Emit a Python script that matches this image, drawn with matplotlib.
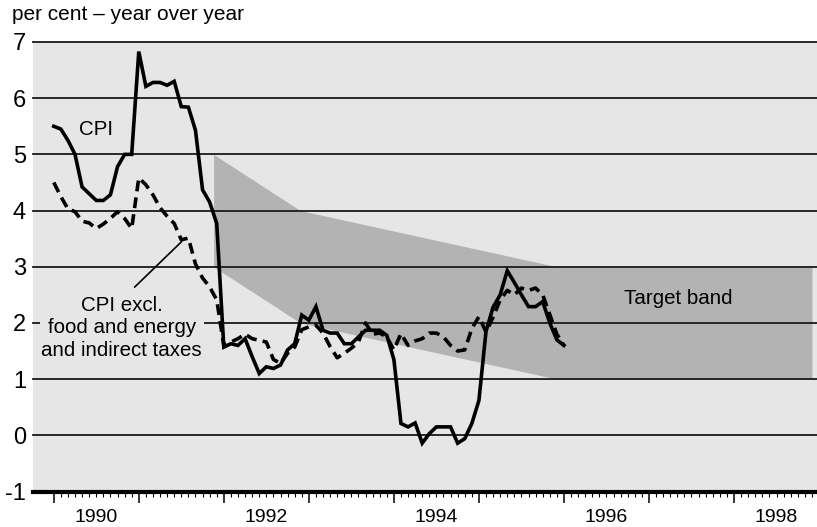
import matplotlib
matplotlib.use("Agg")
import matplotlib.pyplot as plt
import numpy as np

# ---------------- data ----------------
start_year = 1990  # monthly data, Jan 1990 onward
cpi = [5.50, 5.45, 5.25, 5.00, 4.42, 4.30, 4.18, 4.18, 4.28, 4.78, 5.00, 5.00,
       6.83, 6.21, 6.28, 6.28, 6.23, 6.30, 5.85, 5.84, 5.43, 4.37, 4.15, 3.77,
       1.57, 1.63, 1.60, 1.72, 1.40, 1.10, 1.22, 1.19, 1.25, 1.52, 1.63, 2.14,
       2.05, 2.29, 1.87, 1.82, 1.82, 1.63, 1.63, 1.75, 1.87, 1.87, 1.87, 1.78,
       1.35, 0.21, 0.15, 0.22, -0.14, 0.03, 0.15, 0.15, 0.15, -0.14, -0.06, 0.21,
       0.62, 1.85, 2.28, 2.50, 2.93, 2.72, 2.50, 2.29, 2.29, 2.38, 2.00, 1.70,
       1.60]
cpix = [4.50, 4.25, 4.03, 3.98, 3.81, 3.78, 3.68, 3.76, 3.86, 3.98, 3.86, 3.68,
        4.58, 4.46, 4.28, 4.05, 3.90, 3.77, 3.48, 3.51, 3.05, 2.80, 2.64, 2.41,
        1.60, 1.66, 1.72, 1.80, 1.72, 1.69, 1.66, 1.35, 1.28, 1.46, 1.57, 1.88,
        1.93, 1.96, 1.82, 1.58, 1.38, 1.46, 1.55, 1.66, 2.00, 1.80, 1.82, 1.75,
        1.52, 1.81, 1.60, 1.68, 1.72, 1.82, 1.82, 1.75, 1.60, 1.50, 1.52, 1.90,
        2.11, 1.84, 2.10, 2.41, 2.58, 2.50, 2.62, 2.58, 2.62, 2.50, 2.15, 1.80,
        1.60]
band_x = [1991.88, 1992.90, 1995.917, 1998.917]
band_upper = [5, 4, 3, 3]
band_lower = [3, 2, 1, 1]
major_years = list(range(1990, 1999))
year_labels = [1990, 1992, 1994, 1996, 1998]
y_ticks = [-1, 0, 1, 2, 3, 4, 5, 6, 7]
y_tick_labels = ["-1", "0", "1", "2", "3", "4", "5", "6", "7"]

title = "per cent \u2013 year over year"
label_cpi = "CPI"
label_cpix = "CPI excl.\nfood and energy\nand indirect taxes"
label_band = "Target band"

# ---------------- style ----------------
plt.rcParams['font.family'] = ['Liberation Sans', 'DejaVu Sans']
BG = '#e6e6e6'
BAND = '#b3b3b3'

W, H = 817, 527
fig = plt.figure(figsize=(W / 100, H / 100), dpi=100)
fig.patch.set_facecolor('white')
left_px, right_px, top_px, bottom_px = 33, 817, 42, 491.5
ax = fig.add_axes([left_px / W, 1 - bottom_px / H,
                   (right_px - left_px) / W, (bottom_px - top_px) / H])
ax.set_facecolor(BG)

x = start_year + np.arange(len(cpi)) / 12.0

ax.fill_between(band_x, band_lower, band_upper, color=BAND, lw=0, zorder=1)

for yv in y_ticks[1:]:
    ax.axhline(yv, color='#1a1a1a', lw=1.3, zorder=2, clip_on=False)

ax.plot(x, cpix, color='black', lw=2.6, dashes=(3.0, 1.7), zorder=3,
        solid_capstyle='butt', dash_capstyle='butt')
ax.plot(x, cpi, color='black', lw=2.6, zorder=4, solid_joinstyle='miter')

ax.set_xlim(1989.756, 1998.976)
ax.set_ylim(-1, 7)

for s in ['left', 'right', 'top']:
    ax.spines[s].set_visible(False)
ax.spines['bottom'].set_linewidth(3.0)
ax.spines['bottom'].set_color('black')
ax.spines['bottom'].set_zorder(5)

ax.set_xticks(major_years)
ax.set_xticklabels([])
minor = [yr + m / 12.0 for yr in major_years for m in range(1, 12)]
ax.set_xticks(minor, minor=True)
ax.tick_params(axis='x', which='major', length=8, width=1.1, direction='out',
               color='black')
ax.tick_params(axis='x', which='minor', length=3.6, width=0.8, direction='out',
               color='black')

ax.set_yticks(y_ticks)
ax.set_yticklabels(y_tick_labels, fontsize=17)
ax.tick_params(axis='y', length=0, pad=5)

for yr in year_labels:
    ax.annotate(str(yr), xy=(yr + 0.5, 0), xycoords=('data', 'axes fraction'),
                xytext=(0, -18.5), textcoords='offset points',
                ha='center', va='center', fontsize=14, annotation_clip=False)

fig.text(12 / W, 1 - 15 / H, title, fontsize=15, ha='left', va='center')

ax.text(1990.494, 5.44, label_cpi, fontsize=14.8, ha='center', va='center', zorder=6)
ax.text(1990.80, 1.91, label_cpix, fontsize=14.8, ha='center', va='center',
        linespacing=1.25, zorder=6,
        bbox=dict(facecolor=BG, edgecolor='none', pad=1))
ax.plot([1990.953, 1991.502], [2.64, 3.445], color='black', lw=1.2, zorder=5)
ax.text(1997.34, 2.44, label_band, fontsize=14.8, ha='center', va='center', zorder=6)

fig.savefig('out.png', dpi=100)
